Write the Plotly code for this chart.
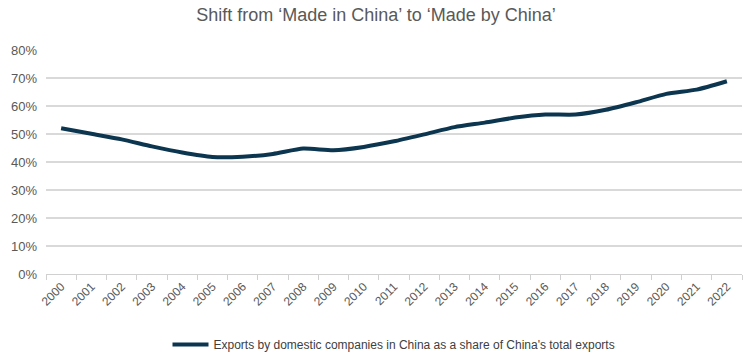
import plotly.graph_objects as go

years = [str(y) for y in range(2000, 2023)]
share = [52.2, 50.2, 48.2, 45.7, 43.5, 41.9, 42.0, 43.0, 44.9, 44.3, 45.5, 47.5,
         50.0, 52.6, 54.2, 56.0, 57.1, 57.1, 58.8, 61.5, 64.5, 66.0, 69.0]
y_ticks = [0, 10, 20, 30, 40, 50, 60, 70, 80]
y_labels = [f"{v}%" for v in y_ticks]

fig = go.Figure()
fig.add_trace(go.Scatter(
    x=years, y=share, mode="lines",
    line=dict(color="#0c3650", width=4, shape="spline", smoothing=0.6),
    name="Exports by domestic companies in China as a share of China's total exports",
))

fig.update_layout(
    width=752, height=352,
    margin=dict(l=46, r=10, t=50, b=78, autoexpand=False),
    paper_bgcolor="white", plot_bgcolor="white",
    font=dict(family="Liberation Sans, Arial, sans-serif", color="#595959", size=12),
    title=dict(text="Shift from \u2018Made in China\u2019 to \u2018Made by China\u2019",
               x=0.5, xanchor="center", y=0.958, yanchor="middle",
               font=dict(size=18, color="#595959")),
    showlegend=True,
    legend=dict(orientation="h", x=0.5, xanchor="center", y=-0.25, yanchor="top",
                font=dict(size=12, color="#404040"), itemwidth=36),
    xaxis=dict(type="category", range=[-0.5, 22.5], tickangle=-45, showgrid=False,
               automargin=False,
               showline=True, linecolor="#d0d0d0", linewidth=1,
               ticks="outside", tickson="boundaries", ticklen=5, tickcolor="#d0d0d0",
               tickfont=dict(size=12, color="#595959")),
    yaxis=dict(range=[0, 80.2], tickvals=y_ticks, ticktext=y_labels, automargin=False,
               showgrid=True, gridcolor="#d9d9d9", gridwidth=1.5, ticklabelstandoff=8,
               zeroline=False, ticks="", tickfont=dict(size=13, color="#595959")),
)

fig.write_html("out.html")
